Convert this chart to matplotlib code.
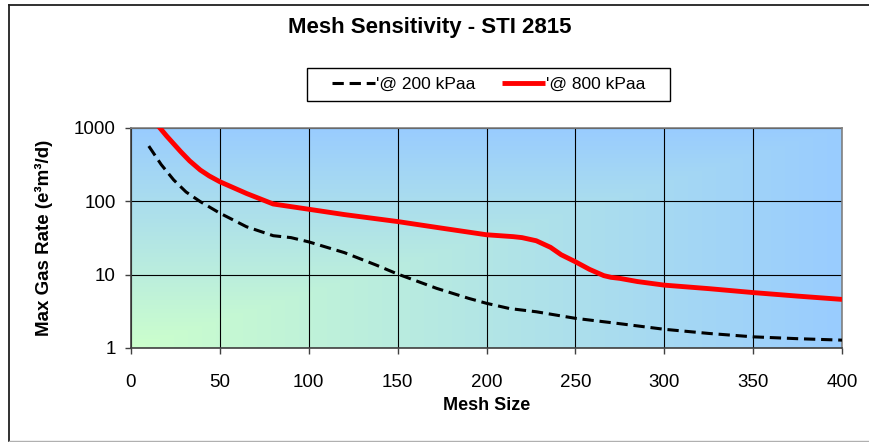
import numpy as np
import matplotlib
matplotlib.use("Agg")
import matplotlib.pyplot as plt
from matplotlib.lines import Line2D
from matplotlib.patches import Rectangle
from matplotlib.ticker import FixedLocator, FuncFormatter, NullLocator

plt.rcParams["font.family"] = ["Liberation Sans", "DejaVu Sans"]

# values
mesh_200 = [10, 17, 24, 31, 39, 50, 65, 80, 90, 100, 120, 138, 150, 172, 190,
            200, 213, 228, 250, 274, 300, 325, 350, 375, 400]
rate_200 = [567, 317, 196, 134, 99, 69, 45, 34, 32, 28, 20, 13.5, 10.2, 6.5, 4.75,
            4.07, 3.45, 3.12, 2.54, 2.16, 1.8, 1.58, 1.42, 1.34, 1.28]

mesh_800 = [10, 16, 20, 28, 33, 39, 44, 50, 65, 80, 100, 120, 140, 150, 175, 200, 215,
            220, 228, 236, 242, 250, 258, 266, 270, 275, 285, 300, 325, 350, 375, 400]
rate_800 = [1500, 1020, 780, 475, 356, 267, 222, 185, 128, 92, 78, 66, 57, 53, 43, 35, 33,
            32, 29, 23.6, 18.7, 15, 11.8, 9.7, 9.2, 8.9, 8.05, 7.2, 6.45, 5.7, 5.1, 4.6]

series_labels = ["'@ 200 kPaa", "'@ 800 kPaa"]
x_ticks = [0, 50, 100, 150, 200, 250, 300, 350, 400]
y_ticks = [1, 10, 100, 1000]

W, H = 869, 442
fig = plt.figure(figsize=(W / 100, H / 100), dpi=100)

# plot area in pixels: x 131..842, y 128..348
rect = [131 / W, 1 - 348 / H, (842 - 131) / W, (348 - 128) / H]

# background: corner gradient from bottom-left (green) to blue
bg = fig.add_axes(rect, zorder=0)
n = 300
U, V = np.meshgrid(np.linspace(0, 1, n), np.linspace(0, 1, n))
t = np.maximum(U, V)[..., None]
green = np.array([204, 255, 204]) / 255
blue = np.array([153, 204, 255]) / 255
grad = green * (1 - t) + blue * t
bg.imshow(grad, origin="lower", extent=[0, 1, 0, 1], aspect="auto")
bg.set_axis_off()

ax = fig.add_axes(rect, zorder=1)
ax.set_facecolor("none")

ax.plot(mesh_200, rate_200, color="black", lw=2.2, linestyle=(0, (3.7, 1.9)),
        label=series_labels[0], zorder=3)
ax.plot(mesh_800, rate_800, color="#FF0000", lw=3.5, solid_capstyle="butt",
        solid_joinstyle="round", label=series_labels[1], zorder=4)

ax.set_yscale("log")
ax.set_xlim(0, 400)
ax.set_ylim(1, 1000)
ax.xaxis.set_major_locator(FixedLocator(x_ticks))
ax.yaxis.set_major_locator(FixedLocator(y_ticks))
ax.yaxis.set_minor_locator(NullLocator())
ax.yaxis.set_major_formatter(FuncFormatter(lambda val, pos: f"{val:g}"))

ax.grid(True, which="major", color="black", lw=0.8, zorder=1)
ax.set_axisbelow(True)

for side, spine in ax.spines.items():
    spine.set_color("#808080" if side in ("top", "right") else "#404040")
    spine.set_linewidth(1.2)

ax.tick_params(axis="both", direction="out", length=4, width=1, color="#404040",
               labelsize=13.5)
ax.tick_params(axis="x", pad=15)
ax.tick_params(axis="y", pad=7)

ax.set_xlabel("Mesh Size", fontsize=13, fontweight="bold", va="center")
ax.xaxis.set_label_coords(0.5, (348 - 405) / 220)
ax.set_ylabel("Max Gas Rate (e³m³/d)", fontsize=13.5, fontweight="bold", va="center")
ax.yaxis.set_label_coords((44 - 131) / 711, 0.5)

fig.text(430 / W, 1 - 28 / H, "Mesh Sensitivity - STI 2815", ha="center",
         va="center", fontsize=16, fontweight="bold")

leg = fig.legend(loc="center", bbox_to_anchor=(488.5 / W, 1 - 84.5 / H), ncol=2,
                 fontsize=12.5, frameon=False, handlelength=2.5, handletextpad=0.05,
                 columnspacing=1.5, borderpad=0.45)
# legend box drawn by hand (wider side padding than matplotlib gives)
fig.add_artist(Rectangle((307 / W, 1 - 101 / H), (670 - 307) / W, (101 - 68) / H,
                         transform=fig.transFigure, facecolor="white",
                         edgecolor="black", lw=1.0, zorder=-1))

# outer chart border (right side runs past the image edge)
fig.add_artist(Line2D([8.5 / W, 8.5 / W], [1 - 4.5 / H, 1 / H],
                      transform=fig.transFigure, color="#202020", lw=1.3))
fig.add_artist(Line2D([8.5 / W, 1.0], [1 - 4.5 / H, 1 - 4.5 / H],
                      transform=fig.transFigure, color="#202020", lw=1.3))
fig.add_artist(Line2D([8.5 / W, 1.0], [1 / H, 1 / H],
                      transform=fig.transFigure, color="#B0B0B0", lw=1.0))

fig.savefig("out.png", dpi=100, facecolor="white")
